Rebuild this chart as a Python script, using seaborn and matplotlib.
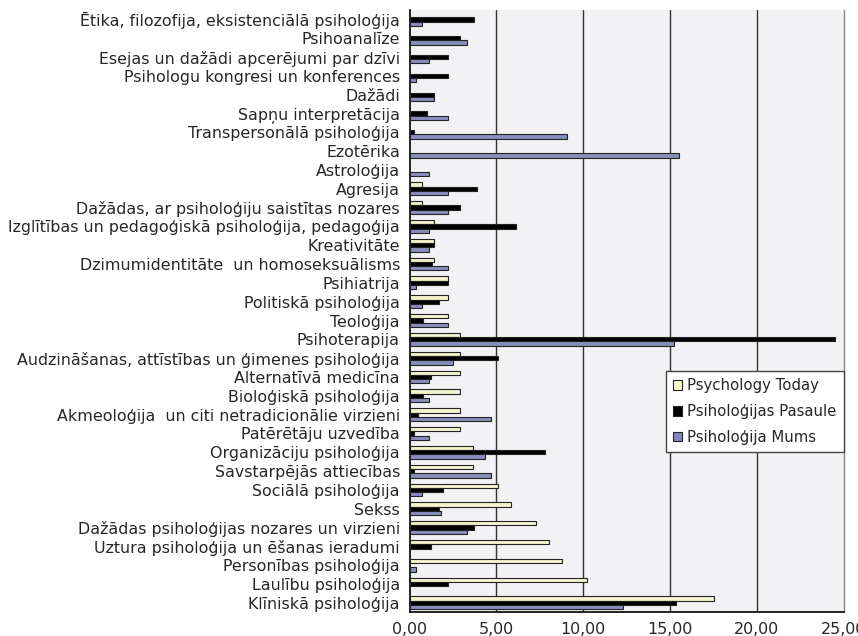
import numpy as np
import pandas as pd
import matplotlib
matplotlib.use("Agg")
import matplotlib.pyplot as plt
import seaborn as sns

categories = [
    "Ētika, filozofija, eksistenciālā psiholoģija",
    "Psihoanalīze",
    "Esejas un dažādi apcerējumi par dzīvi",
    "Psihologu kongresi un konferences",
    "Dažādi",
    "Sapņu interpretācija",
    "Transpersonālā psiholoģija",
    "Ezotērika",
    "Astroloģija",
    "Agresija",
    "Dažādas, ar psiholoģiju saistītas nozares",
    "Izglītības un pedagoģiskā psiholoģija, pedagoģija",
    "Kreativitāte",
    "Dzimumidentitāte  un homoseksuālisms",
    "Psihiatrija",
    "Politiskā psiholoģija",
    "Teoloģija",
    "Psihoterapija",
    "Audzināšanas, attīstības un ģimenes psiholoģija",
    "Alternatīvā medicīna",
    "Bioloģiskā psiholoģija",
    "Akmeoloģija  un citi netradicionālie virzieni",
    "Patērētāju uzvedība",
    "Organizāciju psiholoģija",
    "Savstarpējās attiecības",
    "Sociālā psiholoģija",
    "Sekss",
    "Dažādas psiholoģijas nozares un virzieni",
    "Uztura psiholoģija un ēšanas ieradumi",
    "Personības psiholoģija",
    "Laulību psiholoģija",
    "Klīniskā psiholoģija",
]

psychology_today = [0, 0, 0, 0, 0, 0, 0, 0, 0,
                    0.73, 0.73, 1.42, 1.42, 1.42, 2.19, 2.19, 2.19, 2.92,
                    2.92, 2.92, 2.92, 2.92, 2.92, 3.67, 3.67, 5.10,
                    5.83, 7.27, 8.02, 8.77, 10.19, 17.54]
psihologijas_pasaule = [3.69, 2.92, 2.19, 2.19, 1.42, 1.00, 0.25, 0, 0,
                        3.86, 2.92, 6.10, 1.42, 1.27, 2.19, 1.67, 0.75, 24.52,
                        5.09, 1.25, 0.75, 0.50, 0.25, 7.77, 0.25, 1.92,
                        1.67, 3.69, 1.25, 0, 2.19, 15.32]
psihologija_mums = [0.73, 3.28, 1.09, 0.35, 1.42, 2.19, 9.04, 15.53, 1.09,
                    2.19, 2.19, 1.09, 1.09, 2.19, 0.35, 0.73, 2.19, 15.20,
                    2.51, 1.09, 1.09, 4.68, 1.09, 4.36, 4.68, 0.73,
                    1.82, 3.28, 0, 0.35, 0, 12.28]

series_names = ["Psychology Today", "Psiholoģijas Pasaule", "Psiholoģija Mums"]
series_colors = ["#FAFAC8", "#000000", "#7F87C4"]
x_ticks = [0, 5, 10, 15, 20, 25]
x_tick_labels = ["0,00", "5,00", "10,00", "15,00", "20,00", "25,00"]

df = pd.DataFrame({
    "cat": categories * 3,
    "val": psychology_today + psihologijas_pasaule + psihologija_mums,
    "series": sum([[s] * len(categories) for s in series_names], []),
})

sns.set_style("white")
plt.rcParams["font.family"] = ["DejaVu Sans"]
label_fs = 11.4

fig = plt.figure(figsize=(8.58, 6.36), dpi=100)
ax = fig.add_axes([0.4775, 0.0373, 0.5058, 0.947])
ax.set_facecolor("#F2F2F4")

sns.barplot(data=df, y="cat", x="val", hue="series", order=categories,
            hue_order=series_names, palette=series_colors, orient="h",
            width=0.68, edgecolor="#222222", linewidth=0.8, ax=ax,
            errorbar=None, zorder=3)

for p in ax.patches:
    if p.get_width() == 0:
        p.set_linewidth(0)

ax.set_xlim(0, 25)
ax.set_ylim(len(categories) - 0.5, -0.5)
ax.set_xticks(x_ticks)
ax.set_xticklabels(x_tick_labels)
ax.set_yticks(range(len(categories)))
ax.set_yticklabels(categories)
ax.set_yticks(np.arange(-0.5, len(categories), 1), minor=True)
ax.tick_params(axis="y", which="major", length=0, pad=7, labelsize=label_fs)
ax.tick_params(axis="y", which="minor", length=5, width=1, color="black", direction="out")
ax.tick_params(axis="x", which="major", length=5, width=1, color="black",
               direction="out", labelsize=label_fs, pad=2)
ax.set_xlabel("")
ax.set_ylabel("")

for xv in x_ticks[1:-1]:
    ax.axvline(xv, color="#333333", lw=1, zorder=1)

for side in ["left", "bottom"]:
    ax.spines[side].set_color("black")
    ax.spines[side].set_linewidth(1.2)
for side in ["right", "top"]:
    ax.spines[side].set_color("#888888")
    ax.spines[side].set_linewidth(1)
ax.spines["top"].set_visible(False)

handles = [plt.Rectangle((0, 0), 1, 1, facecolor=c, edgecolor="#222222", lw=0.8)
           for c in series_colors]
leg = ax.legend(handles, series_names, loc="upper left",
                bbox_to_anchor=(0.590, 0.4006), borderaxespad=0,
                frameon=True, fancybox=False, edgecolor="#444444",
                framealpha=1, facecolor="white", fontsize=10.7,
                handlelength=0.6, handleheight=0.6, handletextpad=0.35,
                labelspacing=0.72, borderpad=0.5)
leg.get_frame().set_linewidth(1)

fig.savefig("out.png", dpi=100)
